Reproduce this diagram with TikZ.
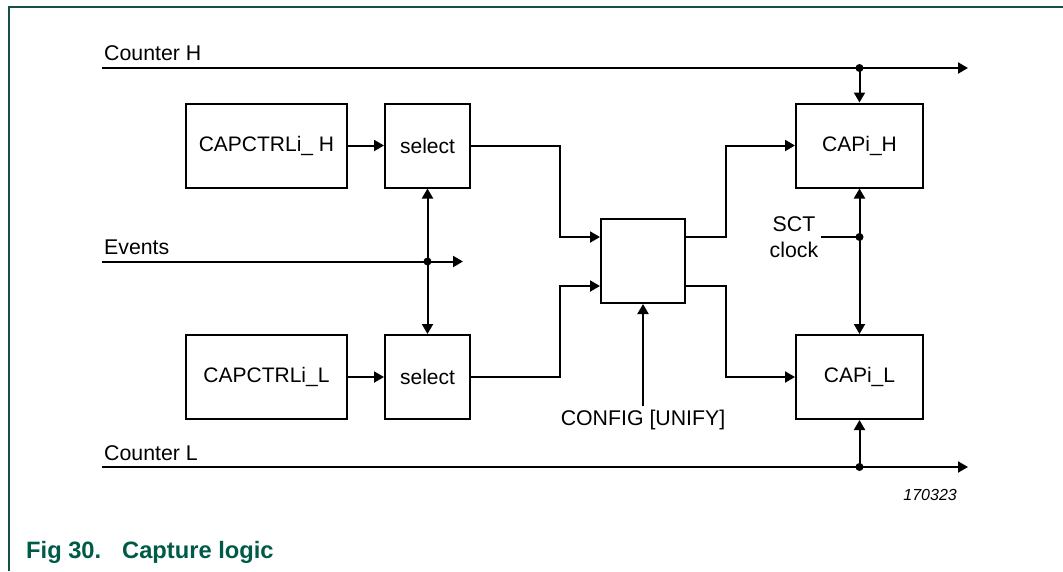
\documentclass[tikz,border=0pt]{standalone}
\usepackage{fontspec}
\setmainfont{Liberation Sans}
\usetikzlibrary{arrows.meta,calc}
\definecolor{nxpgreen}{RGB}{0,90,72}
\definecolor{framegreen}{RGB}{20,80,70}
\begin{document}
\begin{tikzpicture}[x=1pt,y=-1pt,
 blk/.style={draw,line width=2pt,minimum height=84pt,inner sep=0pt,font=\fontsize{21}{25}\selectfont},
 wire/.style={line width=2pt},
 arr/.style={wire,-{Triangle[length=10pt,width=11pt]}},
 lbl/.style={inner sep=0pt,font=\fontsize{21.3}{26}\selectfont},
 dot/.style={circle,fill,inner sep=0pt,minimum size=8pt}]
\useasboundingbox (0,0) rectangle (1063,571);
% frame
\draw[framegreen,line width=1.5pt] (9,571) -- (9,7) -- (1063,7);

% blocks
\node[blk,minimum width=161pt] (capH) at (266.5,145.5) {CAPCTRLi\_ H};
\node[blk,minimum width=85pt]  (selH) at (427.5,145.5) {select};
\node[blk,minimum width=161pt] (capL) at (266.5,377) {CAPCTRLi\_L};
\node[blk,minimum width=85pt]  (selL) at (427.5,377) {select};
\node[blk,minimum width=84pt]  (mux)  at (643,261) {};
\node[blk,minimum width=127pt] (capiH) at (859.5,145.5) {CAPi\_H};
\node[blk,minimum width=127pt] (capiL) at (859.5,377) {CAPi\_L};

% labels
\node[lbl,anchor=base west] (tch) at (104,60) {Counter H};
\node[lbl,anchor=base west] (tev) at (104,254) {Events};
\node[lbl,anchor=base west] (tcl) at (104,460) {Counter L};
\node[lbl,align=center] (sct) at (794,237.5) {SCT\\clock};
\node[lbl,anchor=base] (cfg) at (643,425) {CONFIG [UNIFY]};
\node[inner sep=0pt,anchor=base east,font=\fontsize{16}{19}\selectfont\itshape] (id) at (957,500) {170323};
\node[inner sep=0pt,anchor=base west,text=nxpgreen,font=\fontsize{23.7}{28}\selectfont\bfseries] (cap) at (26,558) {\makebox[96pt][l]{Fig 30.}Capture logic};

% Counter H bus
\coordinate (chs) at (102,68);
\coordinate (che) at (968,68);
\draw[arr] (chs) -- (che);
\node[dot] (jh) at (capiH.north |- chs) {};
\draw[arr] (jh.center) -- (capiH.north);

% Counter L bus
\coordinate (cls) at (102,467);
\coordinate (cle) at (968,467);
\draw[arr] (cls) -- (cle);
\node[dot] (jl) at (capiL.south |- cls) {};
\draw[arr] (jl.center) -- (capiL.south);

% Events
\coordinate (evs) at (102,261.5);
\coordinate (eve) at (463,261.5);
\draw[arr] (evs) -- (eve);
\node[dot] (je) at (selH.south |- evs) {};
\draw[arr] (je.center) -- (selH.south);
\draw[arr] (je.center) -- (selL.north);

% CAPCTRL -> select
\draw[arr] (capH.east) -- (selH.west);
\draw[arr] (capL.east) -- (selL.west);

% select -> mux
\coordinate (mi1) at ($(mux.west)+(0,-24)$);
\coordinate (mi2) at ($(mux.west)+(0,25)$);
\coordinate (mo1) at ($(mux.east)+(0,-24)$);
\coordinate (mo2) at ($(mux.east)+(0,25)$);
\draw[arr] (selH.east) -| ([xshift=-40pt]mi1) -- (mi1);
\draw[arr] (selL.east) -| ([xshift=-40pt]mi2) -- (mi2);
\draw[arr] (mo1) -- ([xshift=40pt]mo1) |- (capiH.west);
\draw[arr] (mo2) -- ([xshift=40pt]mo2) |- (capiL.west);

% CONFIG
\draw[arr] ([yshift=3pt]cfg.north) -- (mux.south);

% SCT clock
\coordinate (sctin) at (821,237);
\node[dot] (js) at (capiH.south |- sctin) {};
\draw[wire] (sctin) -- (js.center);
\draw[arr] (js.center) -- (capiH.south);
\draw[arr] (js.center) -- (capiL.north);
\end{tikzpicture}
\end{document}
